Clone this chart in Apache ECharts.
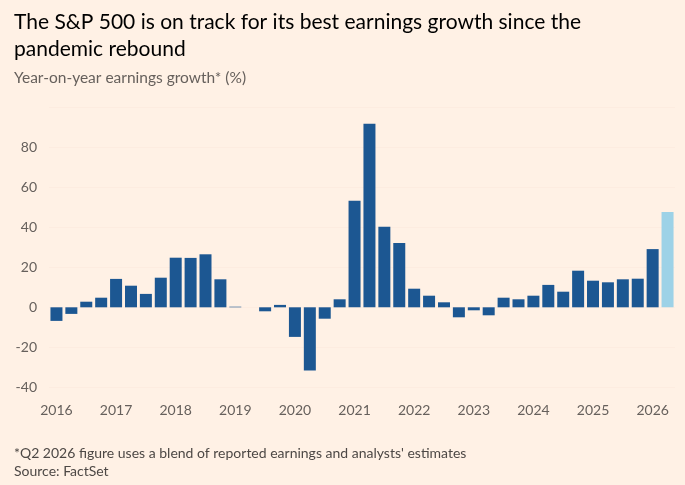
<!DOCTYPE html>
<html>
<head>
<meta charset="utf-8">
<script src="https://cdn.jsdelivr.net/npm/echarts@6/dist/echarts.min.js"></script>
<style>
    html, body { margin: 0; padding: 0; background: #fff1e5; }
    #chart { width: 685px; height: 485px; }
</style>
</head>
<body>
<div id="chart"></div>
<script>
// 季度分类 2016 Q1 - 2026 Q2
var years = ['2016','2017','2018','2019','2020','2021','2022','2023','2024','2025','2026'];
var quarters = [];
years.forEach(function(y){
    ['Q1','Q2','Q3','Q4'].forEach(function(q){
        if (y === '2026' && (q === 'Q3' || q === 'Q4')) return;
        quarters.push(y + ' ' + q);
    });
});
// 同比盈利增长 (%)
var growth = [
    -6.8, -3.3, 2.8, 4.8,
    14.2, 10.8, 6.7, 14.8,
    24.8, 24.7, 26.5, 14.0,
    0.3, 0, -2.0, 1.2,
    -14.8, -31.6, -5.7, 4.0,
    53.3, 91.8, 40.3, 32.2,
    9.3, 5.8, 2.5, -5.0,
    -1.5, -4.0, 4.8, 4.0,
    5.8, 11.2, 7.8, 18.3,
    13.3, 12.5, 14.0, 14.3,
    29.1, 47.6
];
var yTicks = [-40, -20, 0, 20, 40, 60, 80];

window.onload = function(){
    var chart = echarts.init(document.getElementById('chart'));
    var barData = growth.map(function(v, i){
        return {
            value: v,
            itemStyle: { color: i === growth.length - 1 ? '#9dd2e7' : '#1c5792' }
        };
    });
    var option = {
        backgroundColor: '#fff1e5',
        animation: false,
        textStyle: { fontFamily: 'Lato' },
        title: [{
            text: 'The S&P 500 is on track for its best earnings growth since the\npandemic rebound',
            left: 9,
            top: 4,
            textStyle: { fontFamily: 'Lato', fontSize: 21, fontWeight: 'normal', color: '#000', lineHeight: 27 }
        }, {
            text: 'Year-on-year earnings growth* (%)',
            left: 9,
            top: 65,
            textStyle: { fontFamily: 'Lato', fontSize: 15.5, fontWeight: 'normal', color: '#66605c' }
        }, {
            text: "*Q2 2026 figure uses a blend of reported earnings and analysts' estimates\nSource: FactSet",
            left: 9,
            top: 439,
            textStyle: { fontFamily: 'Lato', fontSize: 14, fontWeight: 'normal', color: '#4d4845', lineHeight: 18 }
        }],
        grid: {
            left: 49,
            right: 10,
            top: 107.3,
            bottom: 97.7
        },
        xAxis: {
            type: 'category',
            data: quarters,
            axisLine: { show: false },
            axisTick: { show: false },
            axisLabel: {
                interval: 3,
                margin: 16,
                fontSize: 14,
                color: '#66605c',
                formatter: function(v){ return v.split(' ')[0]; }
            }
        },
        yAxis: {
            type: 'value',
            min: yTicks[0],
            max: 100,
            interval: 20,
            axisLine: { show: false },
            axisTick: { show: false },
            splitLine: { lineStyle: { color: '#fdece0', width: 1 } },
            axisLabel: {
                showMaxLabel: false,
                margin: 12,
                fontSize: 14,
                color: '#66605c'
            }
        },
        series: [{
            type: 'bar',
            barWidth: 12,
            data: barData
        }]
    };
    chart.setOption(option);
    window.addEventListener('resize', function(){
        chart.resize();
    });
};
</script>
</body>
</html>
